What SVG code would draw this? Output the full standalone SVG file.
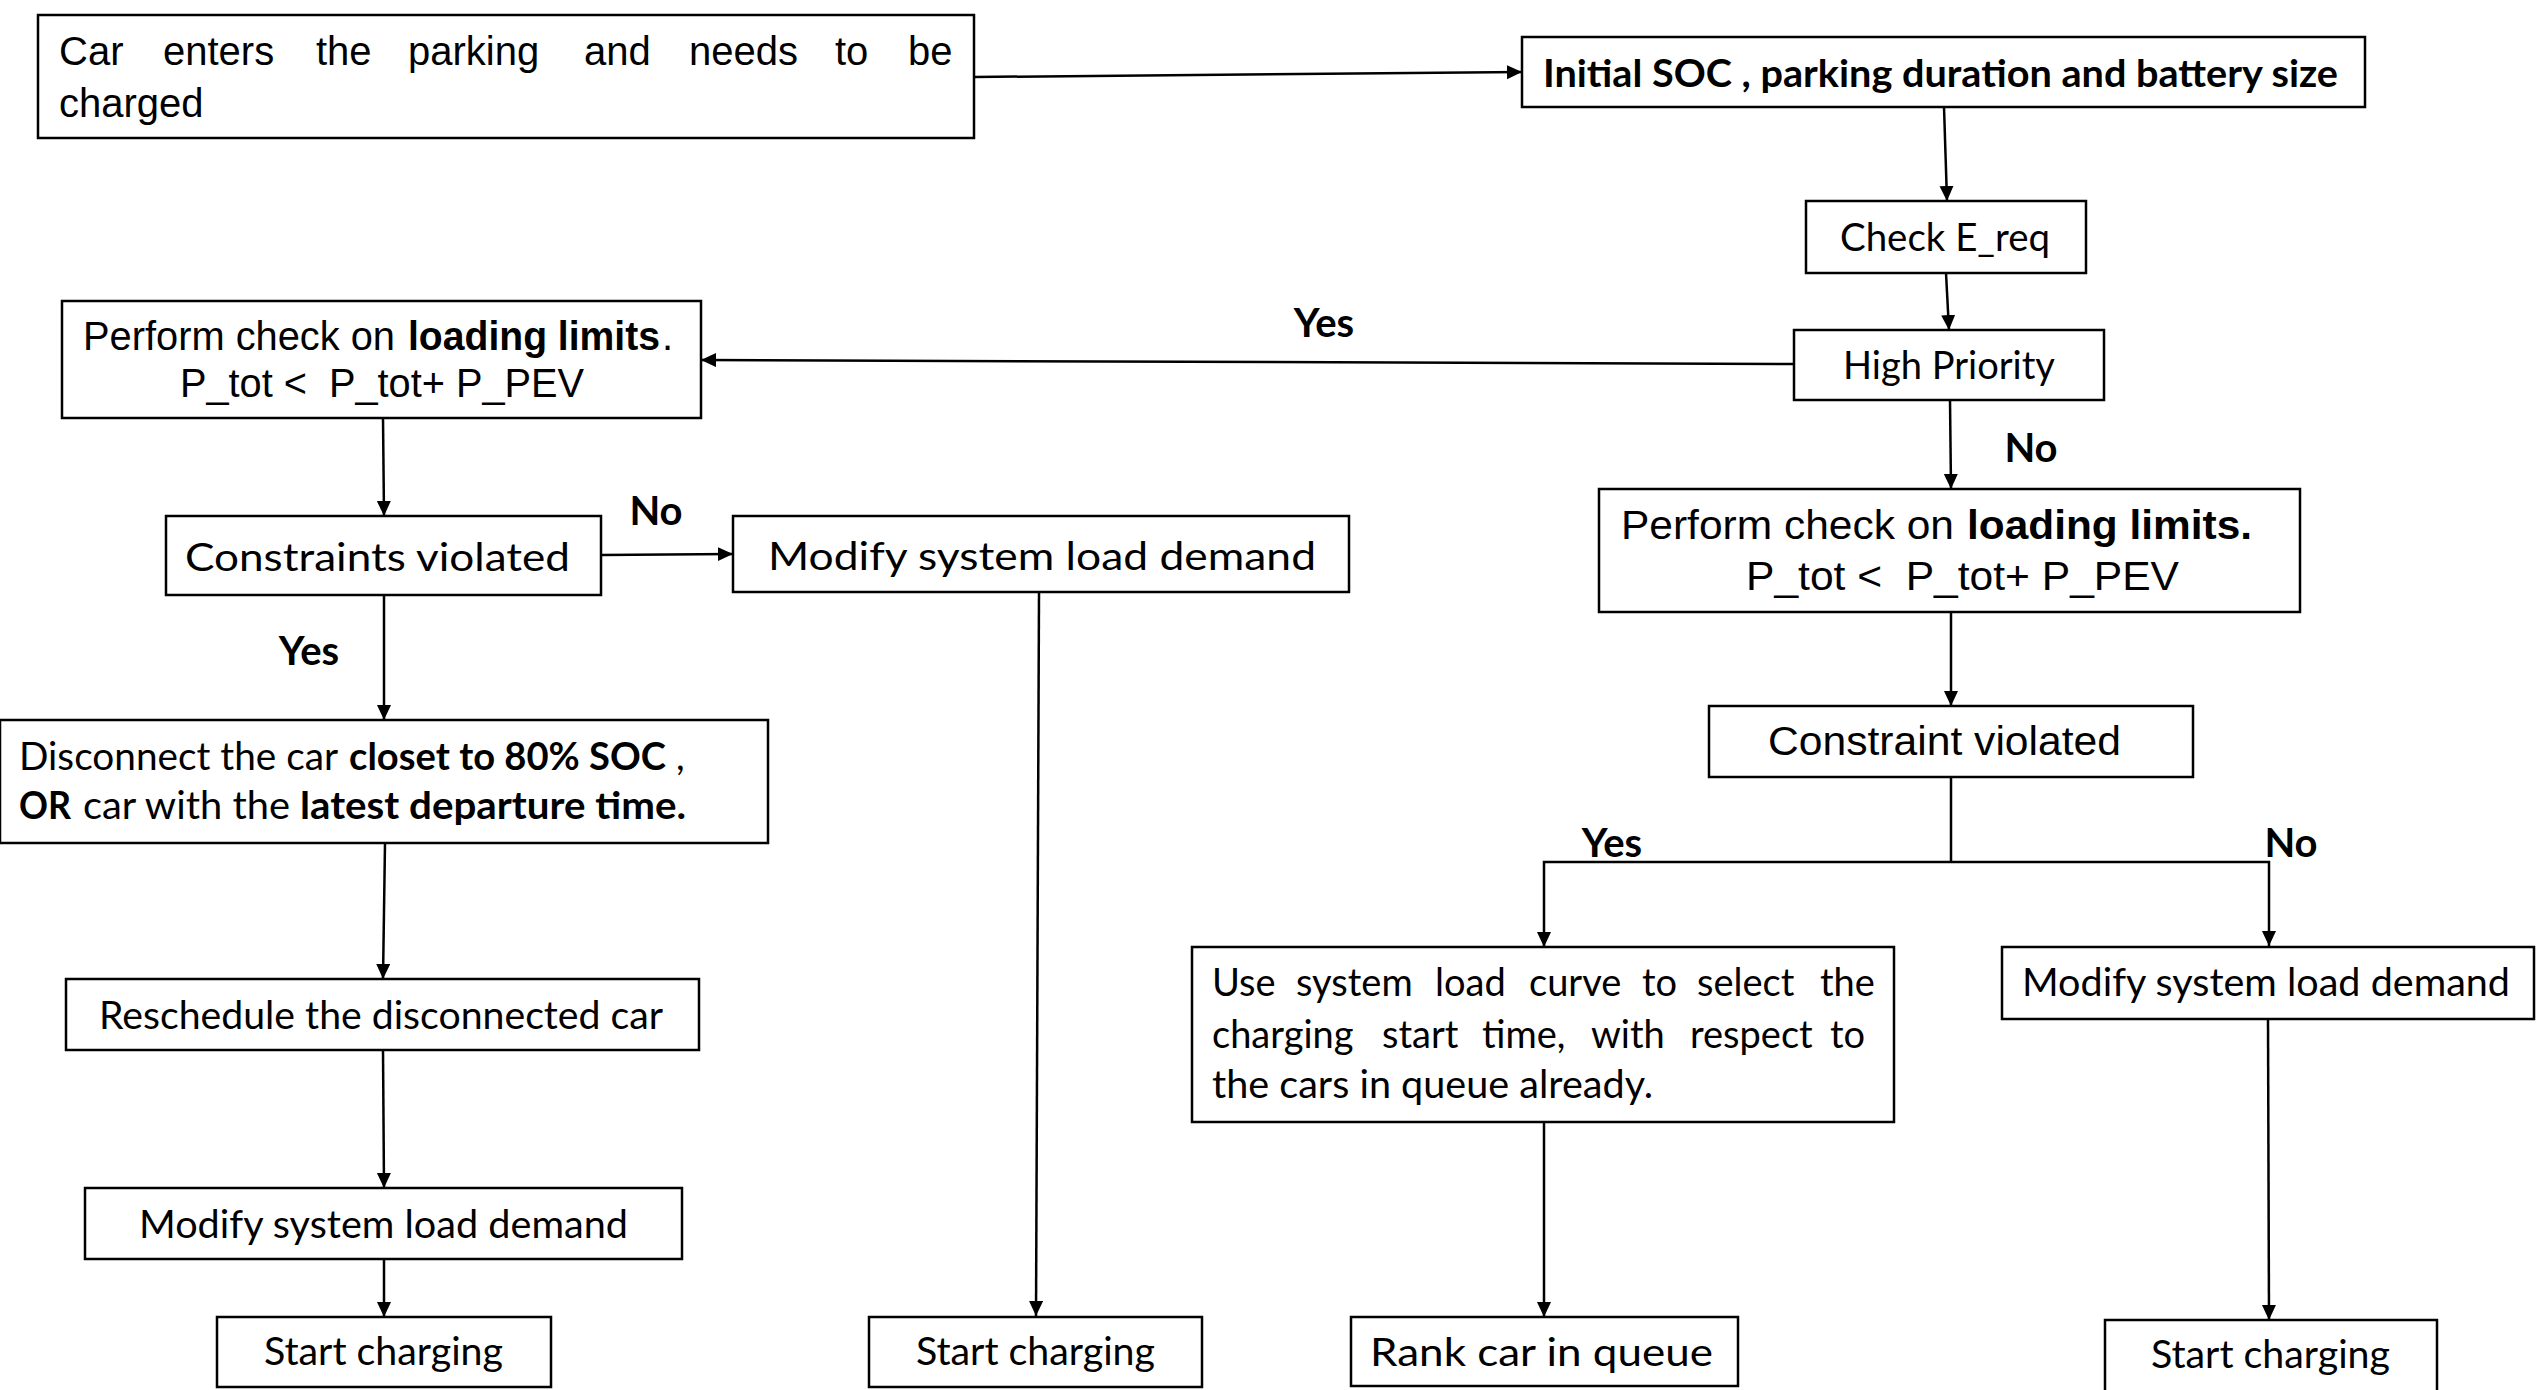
<svg xmlns="http://www.w3.org/2000/svg" width="2539" height="1390" viewBox="0 0 2539 1390">
<defs>
<marker id="ah" markerUnits="userSpaceOnUse" markerWidth="16" markerHeight="16" refX="15" refY="7" orient="auto"><path d="M0,0 L15,7 L0,14 z" fill="#000"/></marker>
<style>
.box{fill:#fff;stroke:#000;stroke-width:2.5}
.ar{font-family:"Liberation Sans",Arial,sans-serif;font-size:40px;fill:#000}
.ca{font-family:Lato,"Open Sans",sans-serif;font-size:38px;fill:#000}
.b{font-weight:bold}
.lbl{font-family:Lato,"Open Sans",sans-serif;font-weight:bold;font-size:40px;fill:#000}
.cn{fill:none;stroke:#000;stroke-width:2.5}
</style>
</defs>
<rect width="2539" height="1390" fill="#fff"/>
<g id="connectors" class="cn">
<line x1="975" y1="77" x2="1522" y2="72" marker-end="url(#ah)"/>
<line x1="1944" y1="107" x2="1947" y2="201" marker-end="url(#ah)"/>
<line x1="1946" y1="273" x2="1949" y2="330" marker-end="url(#ah)"/>
<line x1="1794" y1="364" x2="701" y2="360" marker-end="url(#ah)"/>
<line x1="383" y1="418" x2="384" y2="516" marker-end="url(#ah)"/>
<line x1="601" y1="555" x2="733" y2="554" marker-end="url(#ah)"/>
<line x1="1039" y1="592" x2="1036" y2="1316" marker-end="url(#ah)"/>
<line x1="384" y1="595" x2="384" y2="720" marker-end="url(#ah)"/>
<line x1="385" y1="843" x2="383" y2="979" marker-end="url(#ah)"/>
<line x1="383" y1="1050" x2="384" y2="1188" marker-end="url(#ah)"/>
<line x1="384" y1="1259" x2="384" y2="1317" marker-end="url(#ah)"/>
<line x1="1950" y1="400" x2="1951" y2="489" marker-end="url(#ah)"/>
<line x1="1951" y1="612" x2="1951" y2="706" marker-end="url(#ah)"/>
<line x1="1951" y1="777" x2="1951" y2="862"/>
<path d="M1951,862 H1544 V947" marker-end="url(#ah)"/>
<path d="M1951,862 H2269 V946" marker-end="url(#ah)"/>
<line x1="1544" y1="1122" x2="1544" y2="1317" marker-end="url(#ah)"/>
<line x1="2268" y1="1019" x2="2269" y2="1320" marker-end="url(#ah)"/>
</g>
<g id="labels">
<text class="lbl" x="1324" y="337" text-anchor="middle">Yes</text>
<text class="lbl" x="2031" y="462" text-anchor="middle">No</text>
<text class="lbl" x="656" y="525" text-anchor="middle">No</text>
<text class="lbl" x="309" y="665" text-anchor="middle">Yes</text>
<text class="lbl" x="1612" y="857" text-anchor="middle">Yes</text>
<text class="lbl" x="2291" y="857" text-anchor="middle">No</text>
</g>
<g id="n-enter">
<rect class="box" x="38" y="15" width="936" height="123"/>
<text class="ar" y="65" font-size="41"><tspan x="59">Car</tspan><tspan x="163">enters</tspan><tspan x="316">the</tspan><tspan x="408">parking</tspan><tspan x="584">and</tspan><tspan x="689">needs</tspan><tspan x="835">to</tspan><tspan x="908">be</tspan></text>
<text class="ar" x="59" y="117" font-size="41">charged</text>
</g>
<g id="n-initial">
<rect class="box" x="1522" y="37" width="843" height="70"/>
<text class="ca b" x="1543" y="87" font-size="34" textLength="795" lengthAdjust="spacingAndGlyphs">Initial SOC , parking duration and battery size</text>
</g>
<g id="n-check">
<rect class="box" x="1806" y="201" width="280" height="72"/>
<text class="ca" x="1840" y="251" textLength="210" lengthAdjust="spacingAndGlyphs">Check E_req</text>
</g>
<g id="n-priority">
<rect class="box" x="1794" y="330" width="310" height="70"/>
<text class="ca" x="1843" y="379" textLength="212" lengthAdjust="spacingAndGlyphs">High Priority</text>
</g>
<g id="n-check-left">
<rect class="box" x="62" y="301" width="639" height="117"/>
<text class="ar" y="350"><tspan x="83" textLength="312" lengthAdjust="spacingAndGlyphs">Perform check on</tspan><tspan class="b" x="408" textLength="252" lengthAdjust="spacingAndGlyphs">loading limits</tspan><tspan x="662">.</tspan></text>
<text class="ar" x="180" y="397" xml:space="preserve" textLength="404" lengthAdjust="spacingAndGlyphs">P_tot &lt;  P_tot+ P_PEV</text>
</g>
<g id="n-constraints-left">
<rect class="box" x="166" y="516" width="435" height="79"/>
<text class="ca" x="185" y="571" font-size="43" textLength="385" lengthAdjust="spacingAndGlyphs">Constraints violated</text>
</g>
<g id="n-modify-mid">
<rect class="box" x="733" y="516" width="616" height="76"/>
<text class="ca" x="768" y="570" font-size="43" textLength="548" lengthAdjust="spacingAndGlyphs">Modify system load demand</text>
</g>
<g id="n-disconnect">
<rect class="box" x="0" y="720" width="768" height="123"/>
<text class="ca" y="770"><tspan x="19" textLength="319" lengthAdjust="spacingAndGlyphs">Disconnect the car</tspan><tspan class="b" x="349" textLength="317" lengthAdjust="spacingAndGlyphs">closet to 80% SOC</tspan><tspan x="676">,</tspan></text>
<text class="ca" y="819"><tspan class="b" x="19" textLength="52" lengthAdjust="spacingAndGlyphs">OR</tspan><tspan x="83" textLength="207" lengthAdjust="spacingAndGlyphs">car with the</tspan><tspan class="b" x="300" textLength="386" lengthAdjust="spacingAndGlyphs">latest departure time.</tspan></text>
</g>
<g id="n-reschedule">
<rect class="box" x="66" y="979" width="633" height="71"/>
<text class="ca" x="99" y="1029" textLength="564" lengthAdjust="spacingAndGlyphs">Reschedule the disconnected car</text>
</g>
<g id="n-modify-left">
<rect class="box" x="85" y="1188" width="597" height="71"/>
<text class="ca" x="139" y="1238" textLength="489" lengthAdjust="spacingAndGlyphs">Modify system load demand</text>
</g>
<g id="n-start-1">
<rect class="box" x="217" y="1317" width="334" height="70"/>
<text class="ca" x="264" y="1365" textLength="239" lengthAdjust="spacingAndGlyphs">Start charging</text>
</g>
<g id="n-start-2">
<rect class="box" x="869" y="1317" width="333" height="70"/>
<text class="ca" x="916" y="1365" textLength="239" lengthAdjust="spacingAndGlyphs">Start charging</text>
</g>
<g id="n-check-right">
<rect class="box" x="1599" y="489" width="701" height="123"/>
<text class="ar" y="539" font-size="42"><tspan x="1621" textLength="333" lengthAdjust="spacingAndGlyphs">Perform check on</tspan><tspan class="b" x="1967" textLength="285" lengthAdjust="spacingAndGlyphs">loading limits.</tspan></text>
<text class="ar" x="1746" y="590" font-size="42" xml:space="preserve" textLength="433" lengthAdjust="spacingAndGlyphs">P_tot &lt;  P_tot+ P_PEV</text>
</g>
<g id="n-constraint-right">
<rect class="box" x="1709" y="706" width="484" height="71"/>
<text class="ar" x="1768" y="755" font-size="42" textLength="353" lengthAdjust="spacingAndGlyphs">Constraint violated</text>
</g>
<g id="n-use-curve">
<rect class="box" x="1192" y="947" width="702" height="175"/>
<text class="ca" y="996"><tspan x="1212">Use</tspan><tspan x="1296">system</tspan><tspan x="1435">load</tspan><tspan x="1529">curve</tspan><tspan x="1642">to</tspan><tspan x="1697">select</tspan><tspan x="1820">the</tspan></text>
<text class="ca" y="1048"><tspan x="1212">charging</tspan><tspan x="1382">start</tspan><tspan x="1482">time,</tspan><tspan x="1591">with</tspan><tspan x="1690">respect</tspan><tspan x="1830">to</tspan></text>
<text class="ca" x="1212" y="1098" textLength="441" lengthAdjust="spacingAndGlyphs">the cars in queue already.</text>
</g>
<g id="n-modify-right">
<rect class="box" x="2002" y="947" width="532" height="72"/>
<text class="ca" x="2022" y="996" textLength="488" lengthAdjust="spacingAndGlyphs">Modify system load demand</text>
</g>
<g id="n-rank">
<rect class="box" x="1351" y="1317" width="387" height="69"/>
<text class="ca" x="1370" y="1366" font-size="43" textLength="343" lengthAdjust="spacingAndGlyphs">Rank car in queue</text>
</g>
<g id="n-start-3">
<rect class="box" x="2105" y="1320" width="332" height="80"/>
<text class="ca" x="2151" y="1368" textLength="239" lengthAdjust="spacingAndGlyphs">Start charging</text>
</g>
</svg>
